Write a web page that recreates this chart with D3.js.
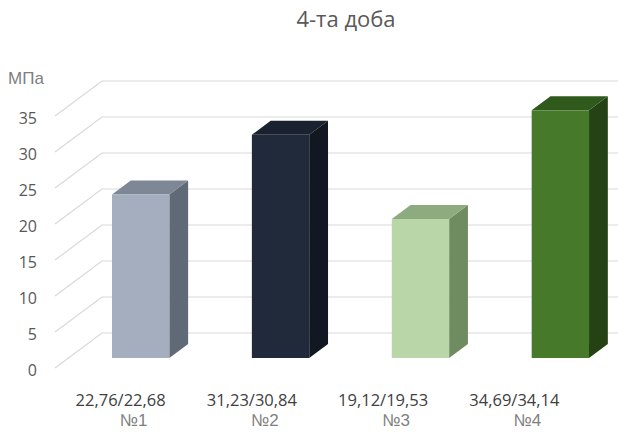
<!DOCTYPE html>
<html lang='uk'>
<head>
  <meta charset='UTF-8'>
  <title>4-та доба</title>
  <script src="https://d3js.org/d3.v7.min.js"></script>
  <style>
    html, body { margin: 0; padding: 0; background: #fff; }
    svg { display: block; font-family: 'Open Sans', sans-serif; }
  </style>
</head>
<body>
  <div id="chart"></div>
  <script>
    // дані
    const categories = ['№1', '№2', '№3', '№4'];
    const valueLabels = ['22,76/22,68', '31,23/30,84', '19,12/19,53', '34,69/34,14'];
    const barValues = [22.7, 31.0, 19.3, 34.4];
    const yTicks = [0, 5, 10, 15, 20, 25, 30, 35];
    const frontColors = ['#a5aebe', '#212a3a', '#b8d6a8', '#467a2a'];
    const topColors = ['#7d8796', '#1a2230', '#8eaa7f', '#2f5a1c'];
    const sideColors = ['#606a76', '#111822', '#6f8c60', '#244214'];

    const width = 618, height = 438;
    const svg = d3.select('#chart').append('svg')
      .attr('width', width)
      .attr('height', height);

    // глибина "підлоги"
    const depthX = 47, depthY = -35;
    const barZ0 = 0.286, barZ1 = 0.686;

    const y = d3.scaleLinear().domain([0, 35]).range([368, 116]);

    // категорії на передньому краю (підписи)
    const xFront = d3.scaleBand().domain(categories).range([55, 580]);
    // стовпці
    const xBar = d3.scaleBand().domain(categories)
      .range([70, 631]).paddingInner(0.59).paddingOuter(0.3);

    // сітка
    const grid = svg.append('g')
      .attr('fill', 'none')
      .attr('stroke', '#d9d9d9')
      .attr('stroke-width', 1.2);
    yTicks.forEach((t) => {
      const x0 = 55, y0 = y(t);
      grid.append('path')
        .attr('d', `M${x0},${y0}L${x0 + depthX},${y0 + depthY}L${width},${y0 + depthY}`);
    });

    // осі
    svg.append('g')
      .selectAll('text')
      .data(yTicks)
      .join('text')
      .attr('x', 37)
      .attr('y', (d) => y(d) + 4)
      .attr('text-anchor', 'end')
      .attr('dominant-baseline', 'middle')
      .attr('font-size', 16)
      .attr('fill', '#595959')
      .text((d) => d);

    svg.append('text')
      .attr('x', 8)
      .attr('y', 80)
      .attr('dominant-baseline', 'middle')
      .attr('font-family', "'Liberation Sans Narrow', 'Liberation Sans', sans-serif")
      .attr('font-size', 17)
      .attr('fill', '#7f7f7f')
      .text('МПа');

    svg.append('text')
      .attr('x', 346)
      .attr('y', 21)
      .attr('text-anchor', 'middle')
      .attr('dominant-baseline', 'middle')
      .attr('font-size', 22)
      .attr('fill', '#595959')
      .text('4-та доба');

    // стовпці 3D
    const bars = svg.append('g')
      .selectAll('g')
      .data(categories)
      .join('g');

    const bw = xBar.bandwidth();
    const dX = (barZ1 - barZ0) * depthX, dY = (barZ1 - barZ0) * depthY;

    bars.each(function (c, i) {
      const g = d3.select(this);
      const x0 = xBar(c);
      const yb = y(0) + barZ0 * depthY;
      const yt = y(barValues[i]) + barZ0 * depthY;
      g.append('path')
        .attr('fill', sideColors[i])
        .attr('d', `M${x0 + bw},${yb}L${x0 + bw + dX},${yb + dY}L${x0 + bw + dX},${yt + dY}L${x0 + bw},${yt}Z`);
      g.append('path')
        .attr('fill', topColors[i])
        .attr('d', `M${x0},${yt}L${x0 + dX},${yt + dY}L${x0 + bw + dX},${yt + dY}L${x0 + bw},${yt}Z`);
      g.append('rect')
        .attr('x', x0)
        .attr('y', yt)
        .attr('width', bw)
        .attr('height', yb - yt)
        .attr('fill', frontColors[i]);
    });

    // підписи категорій
    svg.append('g')
      .selectAll('text')
      .data(valueLabels)
      .join('text')
      .attr('x', (d, i) => xFront(categories[i]) + xFront.bandwidth() / 2)
      .attr('y', 406)
      .attr('text-anchor', 'middle')
      .attr('font-size', 16.5)
      .attr('fill', '#404040')
      .text((d) => d);

    svg.append('g')
      .selectAll('text')
      .data(categories)
      .join('text')
      .attr('x', (d) => xFront(d) + xFront.bandwidth() / 2 + 13)
      .attr('y', 426)
      .attr('text-anchor', 'middle')
      .attr('font-family', "'Liberation Sans Narrow', 'Liberation Sans', sans-serif")
      .attr('font-size', 17)
      .attr('fill', '#7f7f7f')
      .text((d) => d);
  </script>
</body>
</html>
